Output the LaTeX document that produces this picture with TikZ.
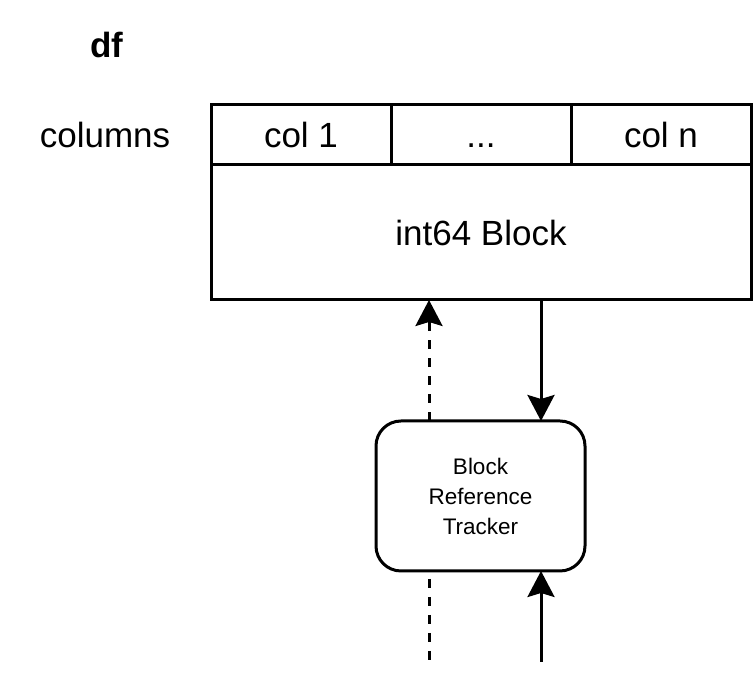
\documentclass[tikz,border=0pt]{standalone}
\usepackage{fontspec}
\setmainfont{Liberation Sans}
\usetikzlibrary{arrows.meta}
\tikzstyle{cell}=[draw, line width=3pt, minimum width=180pt, minimum height=60pt,
  outer sep=0pt, inner sep=0pt, text height=25.5pt, text depth=0pt,
  font=\fontsize{35}{42}\selectfont]
\tikzstyle{blockbox} = [cell, minimum width=540pt, minimum height=135pt]
\tikzstyle{tracker} = [draw, line width=3pt, minimum width=209pt, minimum height=150pt,
  outer sep=0pt, rounded corners=25pt, align=center,
  font=\fontsize{22.5}{30}\selectfont]
\tikzstyle{texto} = [font=\fontsize{35}{42}\selectfont]
\tikzstyle{line} = [draw, line width=3pt,
  -{Stealth[length=26pt, width=27pt, inset=4pt]}]
\tikzstyle{dashline} = [line, dash pattern=on 9pt off 9pt]
\tikzstyle{dashplain} = [draw, line width=3pt, dash pattern=on 9pt off 9pt]

\begin{document}
\begin{tikzpicture}[x=1pt,y=1pt]
  \useasboundingbox (0,0) rectangle (753,687);

  % Draw diagram elements
  \path (301,552) node (c1) [cell] {col 1};
  \path (c1.center)+(180,0) node (c2) [cell] {...};
  \path (c2.center)+(180,0) node (c3) [cell] {col n};
  \path (c2.south)+(0,-67.5) node (blk) [blockbox] {int64 Block};

  \path (c1.west)+(-106,0) node (cols) [texto] {columns};
  \path (cols.center)+(2,90) node (df) [texto] {\bfseries df};

  \path (blk.south)+(-0.5,-196) node (trk) [tracker] {Block\\Reference\\Tracker};

  % Ends of the references
  \path (trk.north)+(-51.5,0) coordinate (up1);
  \path (trk.north)+(60.5,0) coordinate (dn1);
  \path (trk.south)+(-51.5,-91) coordinate (up2);
  \path (trk.south)+(60.5,-91) coordinate (dn2);

  % Draw arrows between elements
  \path [dashline] (up1) -- (up1 |- blk.south);
  \path [line] (blk.south -| dn1) -- (dn1);
  \path [dashplain] (up2 |- trk.south) ++(0,-8) -- (up2);
  \path [line] (dn2) -- (dn2 |- trk.south);
\end{tikzpicture}
\end{document}
